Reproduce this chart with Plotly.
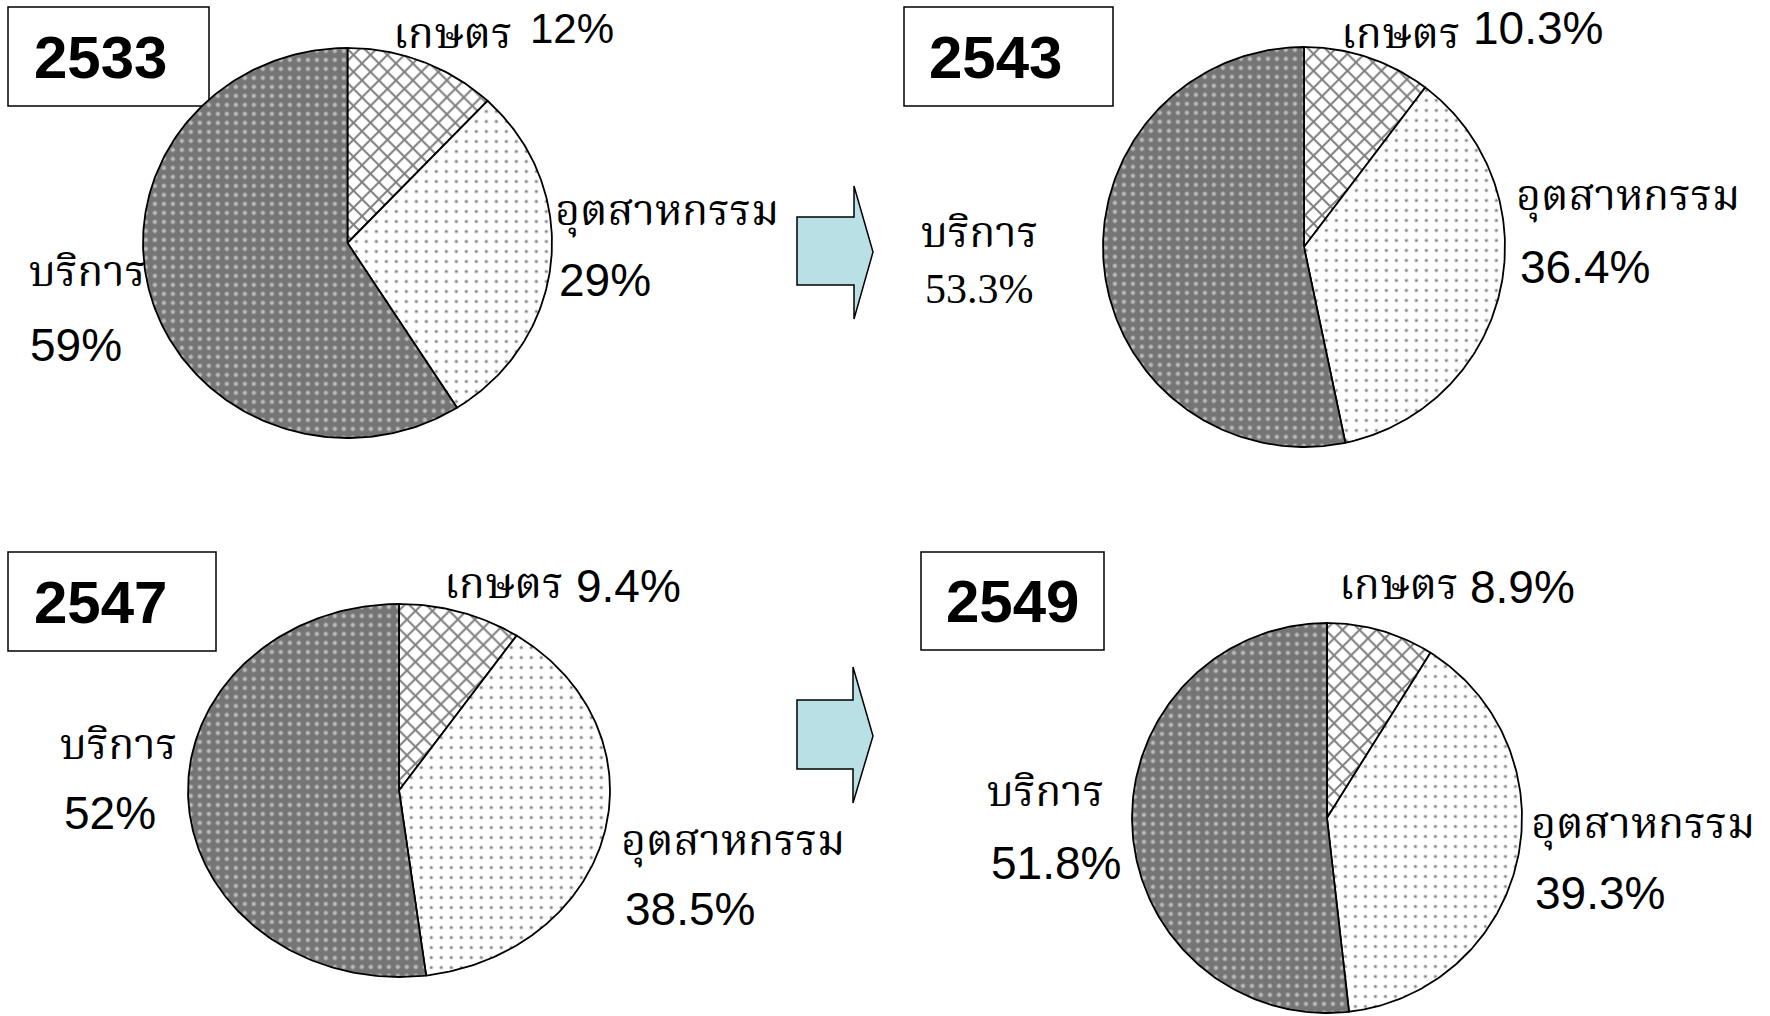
import numpy as np
import plotly.graph_objects as go

W, H = 1770, 1016

# ---------------- data ----------------
years = ["2533", "2543", "2547", "2549"]
sectors = ["เกษตร", "อุตสาหกรรม", "บริการ"]
agriculture = [12, 10.3, 9.4, 8.9]
industry = [29, 36.4, 38.5, 39.3]
services = [59, 53.3, 52, 51.8]

# ---------------- layout (pixels) ----------------
# pie centre x, centre y, radius x, radius y
pie_geom = [(347.5, 243, 204.5, 195), (1304, 247, 201, 200),
            (399, 790.5, 211, 186.5), (1327, 818, 195, 195)]
# year boxes: x0, y0, x1, y1 and year-text centre x
box_geom = [(8, 7, 209, 106), (904, 7, 1113, 106),
            (8, 552, 216, 651), (921, 552, 1104, 650)]
year_text_x = [100, 995, 100, 1012]
# label positions per pie: [(thai xy), (number xy)] for agri, industry, services
# (a Thai y of None means: pin the label box to the top edge of the page)
label_pos = [
    [((391, None), (528, 28)), ((553, 214), (557, 280)), ((27, 275), (28, 345))],
    [((1339, None), (1471, 28)), ((1514, 198), (1518, 267)), ((919, 235), (923, 289))],
    [((442, 586), (574, 586)), ((619, 843), (623, 909)), ((58, 747), (62, 813))],
    [((1337, 587), (1468, 587)), ((1529, 826), (1533, 893)), ((985, 794), (989, 863))],
]
num_size = [[42, 46, 46], [46, 46, 42], [46, 46, 46], [46, 46, 46]]
arrow_geom = [(797, 217, 285, 854, 186, 319, 873, 252),
              (797, 700, 769, 853, 667, 803, 873, 736)]

THAI_FONT = "Noto Serif Thai, Noto Sans Thai, Loma, Norasi, Garuda, sans-serif"
NUM_FONT = "Liberation Sans, Arial, sans-serif"
SERIF_FONT = "Liberation Serif, Times New Roman, serif"
THAI_SIZE = 43

styles = [
    dict(shape="x", fgcolor="black", bgcolor="white", size=12, solidity=0.3),
    dict(shape=".", fgcolor="black", bgcolor="white", size=10, solidity=0.08),
    dict(shape=".", fgcolor="white", bgcolor="#757575", size=9, solidity=0.18),
]


def px(x):
    return x / W


def py(y):
    return 1 - y / H


fig = go.Figure()
pad = 0.008
layout_axes = {}
for i, yr in enumerate(years):
    vals = [agriculture[i], industry[i], services[i]]
    total = sum(vals)
    cx, cy, rx, ry = pie_geom[i]
    xa = "x" if i == 0 else f"x{i + 1}"
    ya = "y" if i == 0 else f"y{i + 1}"
    start = 0.0
    for k, v in enumerate(vals):
        end = start + v / total
        t = np.linspace(start, end, max(int((end - start) * 400), 8)) * 2 * np.pi
        xs = np.concatenate([[0], np.sin(t), [0]])
        ys = np.concatenate([[0], np.cos(t), [0]])
        st = styles[k]
        fig.add_trace(go.Scatter(
            x=xs, y=ys, xaxis=xa, yaxis=ya, mode="lines", fill="toself",
            fillcolor=st["bgcolor"],
            fillpattern=dict(shape=st["shape"], fgcolor=st["fgcolor"], bgcolor=st["bgcolor"],
                             size=st["size"], solidity=st["solidity"]),
            line=dict(color="black", width=1.8), hoverinfo="skip", showlegend=False,
            name=f"{yr} {sectors[k]}"))
        start = end
    sfx = "" if i == 0 else str(i + 1)
    ax = dict(visible=False, range=[-1 - pad, 1 + pad], fixedrange=True)
    layout_axes["xaxis" + sfx] = dict(ax, domain=[px(cx - rx * (1 + pad)), px(cx + rx * (1 + pad))],
                                      anchor=ya)
    layout_axes["yaxis" + sfx] = dict(ax, domain=[py(cy + ry * (1 + pad)), py(cy - ry * (1 + pad))],
                                      anchor=xa)

shapes = []
annotations = []
for i, yr in enumerate(years):
    x0, y0, x1, y1 = box_geom[i]
    shapes.append(dict(type="rect", xref="paper", yref="paper", x0=px(x0), x1=px(x1),
                       y0=py(y1), y1=py(y0), line=dict(color="black", width=1.5),
                       fillcolor="white", layer="below"))
    annotations.append(dict(text=f"<b>{yr}</b>", xref="paper", yref="paper",
                            x=px(year_text_x[i]), y=py((y0 + y1) / 2),
                            xanchor="center", yanchor="middle", showarrow=False,
                            height=62, valign="middle",
                            font=dict(family=NUM_FONT, size=60, color="black")))
    vals = [agriculture[i], industry[i], services[i]]
    for k in range(3):
        (tx, ty), (nx, ny) = label_pos[i][k]
        if ty is None:
            ypos, yanc = 1.0, "top"
        else:
            ypos, yanc = py(ty), "middle"
        annotations.append(dict(text=sectors[k], xref="paper", yref="paper",
                                x=px(tx), y=ypos, xanchor="left", yanchor=yanc,
                                showarrow=False,
                                font=dict(family=THAI_FONT, size=THAI_SIZE, color="black")))
        fam = SERIF_FONT if (i == 1 and k == 2) else NUM_FONT
        annotations.append(dict(text=f"{vals[k]:g}%", xref="paper", yref="paper",
                                x=px(nx), y=py(ny), xanchor="left", yanchor="middle",
                                showarrow=False, height=num_size[i][k] + 2, valign="middle",
                                font=dict(family=fam, size=num_size[i][k], color="black")))

for (bx0, by0, by1, hx, hy0, hy1, tx, ty) in arrow_geom:
    path = (f"M{px(bx0)},{py(by0)} L{px(hx)},{py(by0)} L{px(hx)},{py(hy0)} "
            f"L{px(tx)},{py(ty)} L{px(hx)},{py(hy1)} L{px(hx)},{py(by1)} "
            f"L{px(bx0)},{py(by1)} Z")
    shapes.append(dict(type="path", xref="paper", yref="paper", path=path,
                       fillcolor="#b9e0e4", line=dict(color="black", width=1.5)))

fig.update_layout(width=W, height=H, margin=dict(l=0, r=0, t=0, b=0),
                  paper_bgcolor="white", plot_bgcolor="rgba(0,0,0,0)",
                  shapes=shapes, annotations=annotations, showlegend=False,
                  **layout_axes)

fig.write_html("out.html", config={"displayModeBar": False},
               post_script="document.body.style.margin='0';")
